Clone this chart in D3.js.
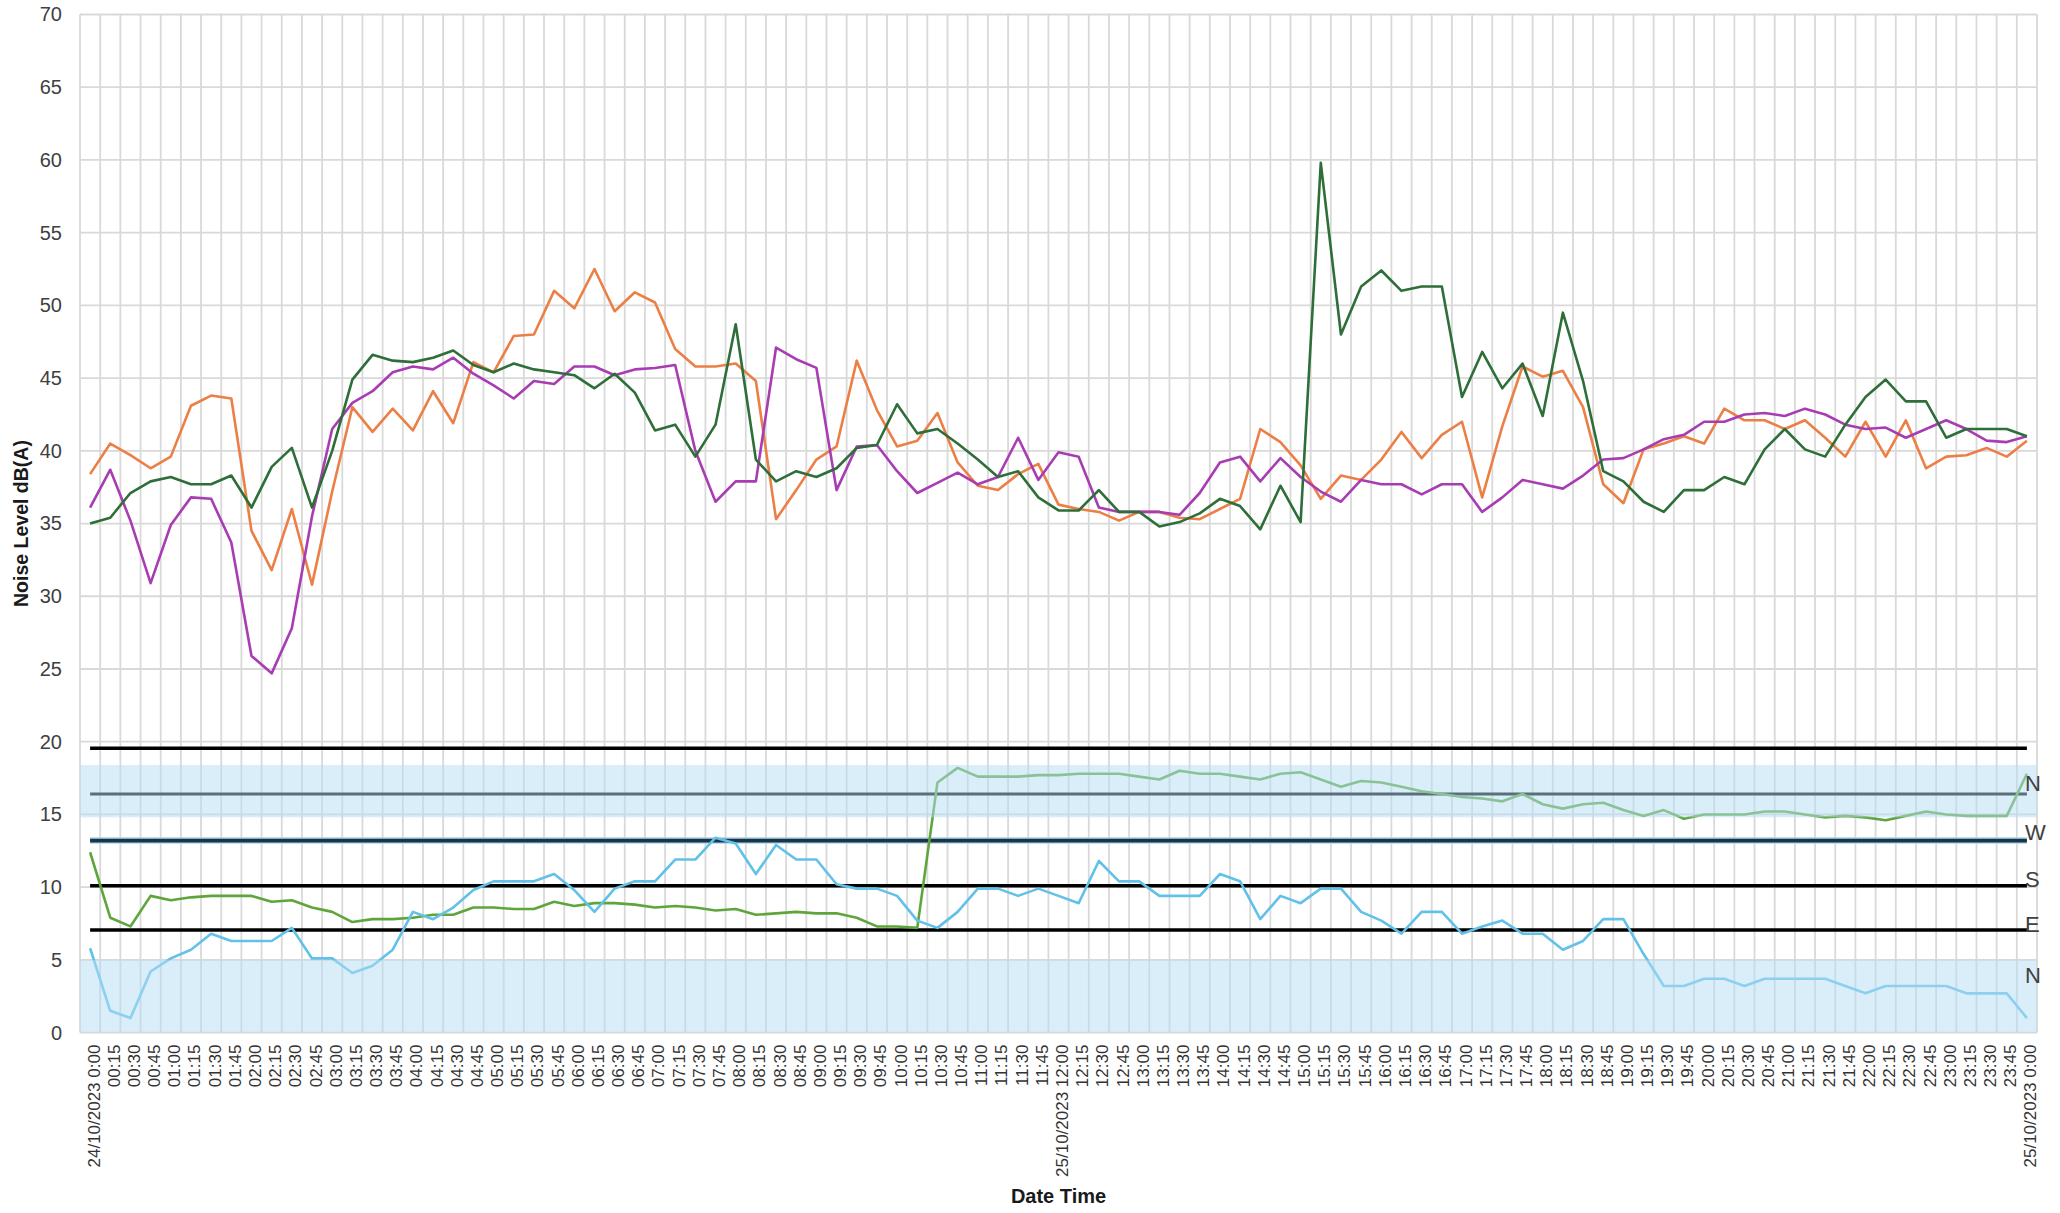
<!DOCTYPE html>
<html>
<head>
<meta charset="utf-8">
<script src="https://cdn.jsdelivr.net/npm/d3@7"></script>
<style>
  html, body { margin: 0; padding: 0; background: #ffffff; }
  svg { display: block; font-family: "Liberation Sans", Arial, sans-serif; }
</style>
</head>
<body>
<svg id="chart" width="2060" height="1213"></svg>
<script>
// 15-minute time stamps along the category axis
const timeLabels = [
  "24/10/2023 0:00",
  "00:15","00:30","00:45","01:00","01:15","01:30","01:45","02:00","02:15","02:30","02:45",
  "03:00","03:15","03:30","03:45","04:00","04:15","04:30","04:45","05:00","05:15","05:30","05:45",
  "06:00","06:15","06:30","06:45","07:00","07:15","07:30","07:45","08:00","08:15","08:30","08:45",
  "09:00","09:15","09:30","09:45","10:00","10:15","10:30","10:45","11:00","11:15","11:30","11:45",
  "25/10/2023 12:00",
  "12:15","12:30","12:45","13:00","13:15","13:30","13:45","14:00","14:15","14:30","14:45",
  "15:00","15:15","15:30","15:45","16:00","16:15","16:30","16:45","17:00","17:15","17:30","17:45",
  "18:00","18:15","18:30","18:45","19:00","19:15","19:30","19:45","20:00","20:15","20:30","20:45",
  "21:00","21:15","21:30","21:45","22:00","22:15","22:30","22:45","23:00","23:15","23:30","23:45",
  "25/10/2023 0:00"
];

// Noise levels, dB(A)
const orangeSeries = [
  38.4,40.5,39.7,38.8,39.6,43.1,43.8,43.6,34.5,31.8,36.0,30.8,37.2,43.0,41.3,42.9,41.4,44.1,41.9,46.1,
  45.4,47.9,48.0,51.0,49.8,52.5,49.6,50.9,50.2,47.0,45.8,45.8,46.0,44.8,35.3,37.3,39.4,40.3,46.2,42.8,
  40.3,40.7,42.6,39.2,37.6,37.3,38.4,39.1,36.3,36.0,35.8,35.2,35.8,35.8,35.4,35.3,36.0,36.7,41.5,40.6,
  39.0,36.7,38.3,38.0,39.4,41.3,39.5,41.1,42.0,36.8,41.7,45.8,45.1,45.5,43.0,37.7,36.4,40.1,40.5,41.0,
  40.5,42.9,42.1,42.1,41.5,42.1,40.9,39.6,42.0,39.6,42.1,38.8,39.6,39.7,40.2,39.6,40.7
];
const purpleSeries = [
  36.1,38.7,35.2,30.9,34.9,36.8,36.7,33.7,25.9,24.7,27.8,35.5,41.5,43.3,44.1,45.4,45.8,45.6,46.4,45.3,
  44.5,43.6,44.8,44.6,45.8,45.8,45.2,45.6,45.7,45.9,40.0,36.5,37.9,37.9,47.1,46.3,45.7,37.3,40.3,40.4,
  38.6,37.1,37.8,38.5,37.7,38.2,40.9,38.0,39.9,39.6,36.1,35.8,35.8,35.8,35.6,37.1,39.2,39.6,37.9,39.5,
  38.2,37.2,36.5,38.0,37.7,37.7,37.0,37.7,37.7,35.8,36.8,38.0,37.7,37.4,38.3,39.4,39.5,40.1,40.8,41.1,
  42.0,42.0,42.5,42.6,42.4,42.9,42.5,41.8,41.5,41.6,40.9,41.5,42.1,41.5,40.7,40.6,41.0
];
const darkGreenSeries = [
  35.0,35.4,37.1,37.9,38.2,37.7,37.7,38.3,36.1,38.9,40.2,36.1,40.0,44.9,46.6,46.2,46.1,46.4,46.9,45.9,
  45.4,46.0,45.6,45.4,45.2,44.3,45.3,44.0,41.4,41.8,39.6,41.8,48.7,39.4,37.9,38.6,38.2,38.8,40.2,40.4,
  43.2,41.2,41.5,40.5,39.4,38.2,38.6,36.8,35.9,35.9,37.3,35.8,35.8,34.8,35.1,35.7,36.7,36.2,34.6,37.6,
  35.1,59.8,48.0,51.3,52.4,51.0,51.3,51.3,43.7,46.8,44.3,46.0,42.4,49.5,44.8,38.6,37.9,36.5,35.8,37.3,
  37.3,38.2,37.7,40.1,41.5,40.1,39.6,41.8,43.7,44.9,43.4,43.4,40.9,41.5,41.5,41.5,41.0
];
const lightGreenSeries = [
  12.4,7.9,7.3,9.4,9.1,9.3,9.4,9.4,9.4,9.0,9.1,8.6,8.3,7.6,7.8,7.8,7.9,8.1,8.1,8.6,
  8.6,8.5,8.5,9.0,8.7,8.9,8.9,8.8,8.6,8.7,8.6,8.4,8.5,8.1,8.2,8.3,8.2,8.2,7.9,7.3,
  7.3,7.2,17.2,18.2,17.6,17.6,17.6,17.7,17.7,17.8,17.8,17.8,17.6,17.4,18.0,17.8,17.8,17.6,17.4,17.8,
  17.9,17.4,16.9,17.3,17.2,16.9,16.6,16.4,16.2,16.1,15.9,16.4,15.7,15.4,15.7,15.8,15.3,14.9,15.3,14.7,
  15.0,15.0,15.0,15.2,15.2,15.0,14.8,14.9,14.8,14.6,14.9,15.2,15.0,14.9,14.9,14.9,17.8
];
const lightBlueSeries = [
  5.8,1.5,1.0,4.2,5.1,5.7,6.8,6.3,6.3,6.3,7.2,5.1,5.1,4.1,4.6,5.7,8.3,7.8,8.6,9.8,
  10.4,10.4,10.4,10.9,9.8,8.3,9.9,10.4,10.4,11.9,11.9,13.4,13.0,10.9,12.9,11.9,11.9,10.2,9.9,9.9,
  9.4,7.7,7.2,8.3,9.9,9.9,9.4,9.9,9.4,8.9,11.8,10.4,10.4,9.4,9.4,9.4,10.9,10.4,7.8,9.4,
  8.9,9.9,9.9,8.3,7.7,6.8,8.3,8.3,6.8,7.3,7.7,6.8,6.8,5.7,6.3,7.8,7.8,5.4,3.2,3.2,
  3.7,3.7,3.2,3.7,3.7,3.7,3.7,3.2,2.7,3.2,3.2,3.2,3.2,2.7,2.7,2.7,1.0
];

// Constant reference levels and their colours
const referenceLevels = [19.55, 16.4, 13.2, 10.1, 7.05];
const referenceColours = ["#000000", "#000000", "#1d3346", "#000000", "#000000"];

// Shaded ranges [from, to]
const bandRanges = [[14.8, 18.4], [0, 5]];

// Direction labels at the right end and the level each sits on
const directionNames = ["N", "W", "S", "E", "N"];
const directionLevels = [16.6, 13.25, 10.0, 6.95, 3.4];

const yTicks = d3.range(0, 75, 5);

const svg = d3.select("#chart");
const plot = { left: 80, right: 2037, top: 14.5, bottom: 1032.6 };

const idx = d3.range(timeLabels.length);
const x = d3.scaleBand().domain(idx).range([plot.left, plot.right]).paddingInner(0).paddingOuter(0);
const bw = x.bandwidth();
const cx = i => x(i) + bw / 2;
const y = d3.scaleLinear().domain([0, 70]).range([plot.bottom, plot.top]);

// Gridlines
const grid = svg.append("g").attr("stroke", "#d9d9d9").attr("stroke-width", 1.8);
grid.selectAll("line.h").data(yTicks).join("line")
  .attr("x1", plot.left).attr("x2", plot.right)
  .attr("y1", d => y(d)).attr("y2", d => y(d));
const bounds = idx.map(i => x(i)).concat([plot.right]);
grid.selectAll("line.v").data(bounds).join("line")
  .attr("x1", d => d).attr("x2", d => d)
  .attr("y1", plot.top).attr("y2", plot.bottom);

// Y axis
const yAxis = svg.append("g")
  .attr("transform", `translate(${plot.left},0)`)
  .call(d3.axisLeft(y).tickValues(yTicks).tickSize(0).tickPadding(18));
yAxis.select(".domain").remove();
yAxis.selectAll("text")
  .attr("font-family", "'Liberation Sans', Arial, sans-serif")
  .attr("font-size", 20).attr("fill", "#404040");

// X axis with vertical labels
const xAxis = svg.append("g")
  .attr("transform", `translate(0,${plot.bottom})`)
  .call(d3.axisBottom(x).tickFormat(i => timeLabels[i]).tickSize(0));
xAxis.select(".domain").remove();
xAxis.selectAll("text")
  .attr("font-family", "'Liberation Sans', Arial, sans-serif")
  .attr("font-size", 17).attr("fill", "#333333")
  .attr("transform", "rotate(-90)")
  .attr("text-anchor", "end")
  .attr("x", -12).attr("y", 9.5).attr("dy", 0);

// Reference levels drawn across every time stamp
const flatLine = d3.line().x(d => cx(d.i)).y(d => y(d.v));
referenceLevels.forEach((lvl, k) => {
  const pts = idx.map(i => ({ i, v: lvl }));
  if (k === 2) {
    svg.append("path").attr("d", flatLine(pts)).attr("fill", "none")
      .attr("stroke", "#a9d7ee").attr("stroke-width", 6.5);
  }
  svg.append("path").attr("d", flatLine(pts)).attr("fill", "none")
    .attr("stroke", referenceColours[k]).attr("stroke-width", k === 1 ? 3 : 3.6);
});

// Measured series
const series = [
  { values: orangeSeries, colour: "#ec7f45" },
  { values: purpleSeries, colour: "#a83cb3" },
  { values: darkGreenSeries, colour: "#2e6e38" },
  { values: lightGreenSeries, colour: "#5ea63c" },
  { values: lightBlueSeries, colour: "#62c1e8" }
];
const valueLine = d3.line().x((d, i) => cx(i)).y(d => y(d));
svg.append("g").selectAll("path").data(series).join("path")
  .attr("d", d => valueLine(d.values))
  .attr("fill", "none")
  .attr("stroke", d => d.colour)
  .attr("stroke-width", 2.6)
  .attr("stroke-linejoin", "round");

// Translucent shaded ranges
svg.append("g").selectAll("rect").data(bandRanges).join("rect")
  .attr("x", plot.left).attr("width", plot.right - plot.left)
  .attr("y", d => y(d[1])).attr("height", d => y(d[0]) - y(d[1]))
  .attr("fill", "#b5def4").attr("fill-opacity", 0.5);

// Direction labels
svg.append("g").selectAll("text").data(directionNames).join("text")
  .attr("x", cx(idx.length - 1) - 2)
  .attr("y", (d, k) => y(directionLevels[k]))
  .attr("font-size", 22).attr("fill", "#404040")
  .text(d => d);

// Axis titles
svg.append("text")
  .attr("transform", `translate(28,${(plot.top + plot.bottom) / 2}) rotate(-90)`)
  .attr("text-anchor", "middle")
  .attr("font-size", 19.5).attr("font-weight", "bold").attr("fill", "#1a1a1a")
  .text("Noise Level dB(A)");
svg.append("text")
  .attr("x", (plot.left + plot.right) / 2).attr("y", 1203)
  .attr("text-anchor", "middle")
  .attr("font-size", 20).attr("font-weight", "bold").attr("fill", "#1a1a1a")
  .text("Date Time");
</script>
</body>
</html>
